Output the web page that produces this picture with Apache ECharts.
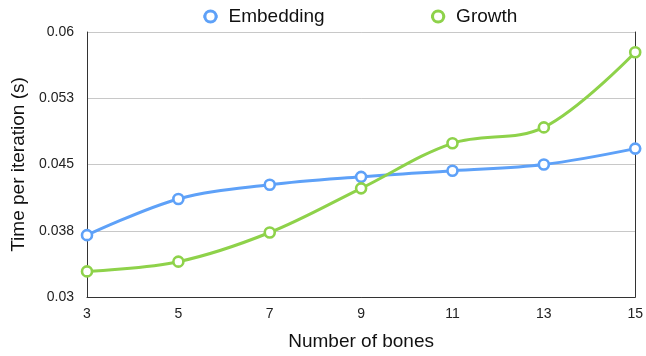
<!DOCTYPE html>
<html>
<head>
<meta charset="utf-8">
<script src="https://cdn.jsdelivr.net/npm/echarts@6/dist/echarts.min.js"></script>
<style>
  html, body { margin: 0; padding: 0; background: #fff; }
  #chart { width: 646px; height: 356px; }
</style>
</head>
<body>
<div id="chart"></div>
<script>
// Number of bones on the x axis
const bones = ['3', '5', '7', '9', '11', '13', '15'];
// Time per iteration in seconds
const embedding = [0.0370, 0.0411, 0.0427, 0.0436, 0.0443, 0.0450, 0.0468];
const growth = [0.0329, 0.0340, 0.0373, 0.0423, 0.0474, 0.0492, 0.0577];
// y-axis tick labels, from 0.03 up in steps of 0.0075
const yTickLabels = ['0.03', '0.038', '0.045', '0.053', '0.06'];

const yMin = 0.03;
const yStep = 0.0075;

const blue = '#5EA1F8';
const green = '#8ED24A';
const font = 'Liberation Sans, Arial, sans-serif';

function formatTick(v) {
  const i = Math.round((v - yMin) / yStep);
  return yTickLabels[i] !== undefined ? yTickLabels[i] : '';
}

function lineSeries(name, data, color) {
  return {
    name: name,
    type: 'line',
    data: data,
    smooth: 0.35,
    symbol: 'circle',
    symbolSize: 10,
    showSymbol: true,
    lineStyle: { color: color, width: 3 },
    itemStyle: { color: '#fff', borderColor: color, borderWidth: 2.6 }
  };
}

function legendItem(name, color) {
  return {
    name: name,
    lineStyle: { color: color, width: 3 },
    itemStyle: { color: '#fff', borderColor: color, borderWidth: 3 }
  };
}

const chart = echarts.init(document.getElementById('chart'), null, { renderer: 'canvas' });
chart.setOption({
  animation: false,
  backgroundColor: '#fff',
  textStyle: { fontFamily: font },
  legend: {
    top: 2,
    left: 197,
    itemGap: 105,
    itemWidth: 14,
    itemHeight: 14,
    textStyle: { fontSize: 19, color: '#111', fontFamily: font, padding: [0, 0, 0, 6] },
    data: [legendItem('Embedding', blue), legendItem('Growth', green)]
  },
  grid: { left: 87, right: 8, top: 32, bottom: 58 },
  xAxis: {
    type: 'category',
    data: bones,
    boundaryGap: false,
    name: 'Number of bones',
    nameLocation: 'middle',
    nameGap: 35,
    nameTextStyle: { fontSize: 19, color: '#111', fontFamily: font },
    axisLine: { lineStyle: { color: '#333', width: 1 } },
    axisTick: { show: false },
    axisLabel: { fontSize: 14, color: '#222', margin: 10, fontFamily: font },
    splitLine: { show: false }
  },
  yAxis: [{
    type: 'value',
    min: yMin,
    max: 0.06,
    interval: yStep,
    name: 'Time per iteration (s)',
    nameLocation: 'middle',
    nameGap: 57,
    nameTextStyle: { fontSize: 19, color: '#111', fontFamily: font },
    axisLine: { show: true, lineStyle: { color: '#333', width: 1 } },
    axisTick: { show: false },
    axisLabel: { fontSize: 14, color: '#222', margin: 13, formatter: formatTick, fontFamily: font },
    splitLine: { lineStyle: { color: '#c8c8c8', width: 1 } }
  }, {
    type: 'value',
    min: yMin,
    max: 0.06,
    interval: yStep,
    position: 'right',
    axisLine: { show: true, lineStyle: { color: '#333', width: 1 } },
    axisTick: { show: false },
    axisLabel: { show: false },
    splitLine: { show: false }
  }],
  series: [
    lineSeries('Embedding', embedding, blue),
    lineSeries('Growth', growth, green)
  ]
});
</script>
</body>
</html>
